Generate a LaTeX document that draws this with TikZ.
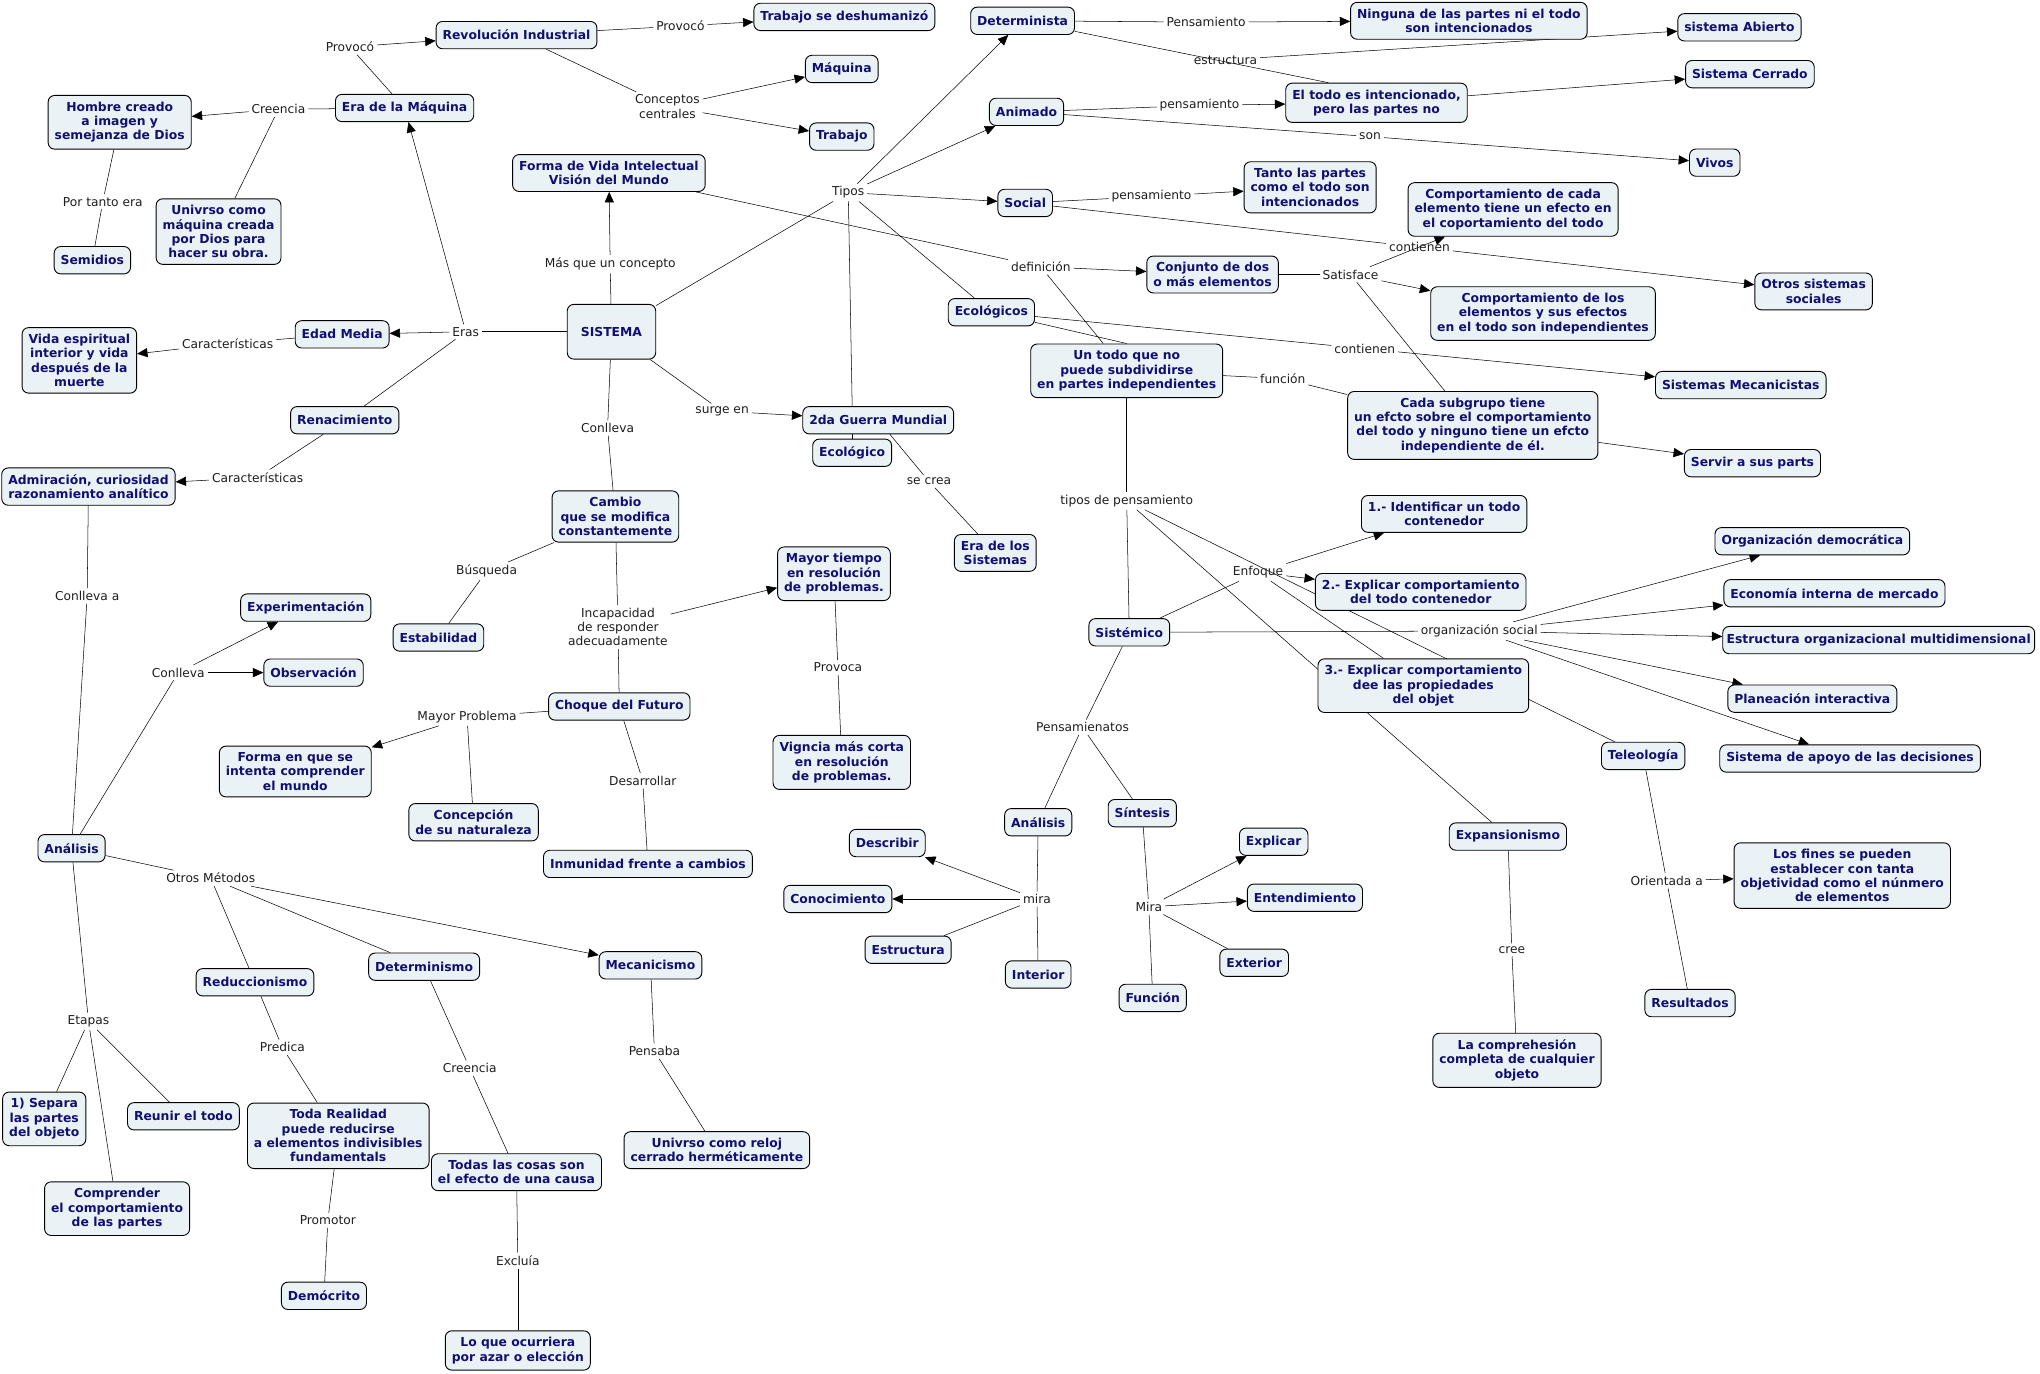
\documentclass[tikz,border=0pt]{standalone}
\usepackage{fontspec}
\setmainfont{DejaVu Sans}
\usetikzlibrary{arrows.meta,backgrounds}
\definecolor{cfill}{RGB}{235,242,246}
\definecolor{cblue}{RGB}{16,16,112}
\definecolor{ltext}{RGB}{30,30,30}

\begin{document}
\begin{tikzpicture}[x=1pt,y=-1pt,>={Triangle[length=8pt,width=7pt]},line width=0.6pt]
\tikzstyle{C}=[draw,rounded corners=5pt,fill=cfill,text=cblue,font=\bfseries\fontsize{9.5}{11}\selectfont,align=center,inner xsep=5pt,inner ysep=5pt,minimum height=21pt,line width=0.7pt]
\tikzstyle{L}=[text=ltext,font=\fontsize{9.4}{11}\selectfont,align=center,inner sep=2pt]
\useasboundingbox (0,0) rectangle (1568,1056);

\node[C,minimum width=68pt,minimum height=42pt] (sis) at (470,255) {SISTEMA};
\node[C] (rev) at (397,27) {Revolución Industrial};
\node[C] (tdh) at (649,13) {Trabajo se deshumanizó};
\node[C] (maq) at (647,53) {Máquina};
\node[C] (trab) at (647,105) {Trabajo};
\node[C] (eram) at (311,83) {Era de la Máquina};
\node[C] (hom) at (92,94) {Hombre creado\\a imagen y\\semejanza de Dios};
\node[C] (univ) at (168,178) {Univrso como\\máquina creada\\por Dios para\\hacer su obra.};
\node[C] (semi) at (71,200) {Semidios};
\node[C] (fvi) at (468,133) {Forma de Vida Intelectual\\Visión del Mundo};
\node[C] (edad) at (263,257) {Edad Media};
\node[C] (vida) at (61,277) {Vida espiritual\\interior y vida\\después de la\\muerte};
\node[C] (ren) at (265,323) {Renacimiento};
\node[C] (adm) at (68,374) {Admiración, curiosidad\\razonamiento analítico};
\node[C] (camb) at (473,397) {Cambio\\que se modifica\\constantemente};
\node[C] (est) at (337,490) {Estabilidad};
\node[C] (mayt) at (641,441) {Mayor tiempo\\en resolución\\de problemas.};
\node[C] (vig) at (647,586) {Vigncia más corta\\en resolución\\de problemas.};
\node[C] (choq) at (476,543) {Choque del Futuro};
\node[C] (fenq) at (227,593) {Forma en que se\\intenta comprender\\el mundo};
\node[C] (conc) at (364,632) {Concepción\\de su naturaleza};
\node[C] (inm) at (498,664) {Inmunidad frente a cambios};
\node[C] (exp) at (235,467) {Experimentación};
\node[C] (obs) at (241,517) {Observación};
\node[C] (anl) at (55,652) {Análisis};
\node[C] (red) at (196,755) {Reduccionismo};
\node[C] (detm) at (326,743) {Determinismo};
\node[C] (mec) at (500,742) {Mecanicismo};
\node[C] (sep) at (34,860) {1) Separa\\las partes\\del objeto};
\node[C] (reu) at (141,858) {Reunir el todo};
\node[C] (comp) at (90,929) {Comprender\\el comportamiento\\de las partes};
\node[C] (toda) at (260,873) {Toda Realidad\\puede reducirse\\a elementos indivisibles\\fundamentals};
\node[C] (todas) at (397,901) {Todas las cosas son\\el efecto de una causa};
\node[C] (dem) at (249,996) {Demócrito};
\node[C] (azar) at (398,1038) {Lo que ocurriera\\por azar o elección};
\node[C] (reloj) at (551,884) {Univrso como reloj\\cerrado herméticamente};
\node[C] (gm) at (675,323) {2da Guerra Mundial};
\node[C] (eco) at (655,348) {Ecológico};
\node[C] (erasis) at (765,425) {Era de los\\Sistemas};
\node[C] (dtta) at (786,16) {Determinista};
\node[C] (anim) at (789,86) {Animado};
\node[C] (soc) at (788,156) {Social};
\node[C] (ecos) at (762,240) {Ecológicos};
\node[C] (ning) at (1129,16) {Ninguna de las partes ni el todo\\son intencionados};
\node[C] (abto) at (1337,21) {sistema Abierto};
\node[C] (tint) at (1058,79) {El todo es intencionado,\\pero las partes no};
\node[C] (cerr) at (1345,57) {Sistema Cerrado};
\node[C] (viv) at (1318,125) {Vivos};
\node[C] (tanto) at (1007,144) {Tanto las partes\\como el todo son\\intencionados};
\node[C] (cada) at (1163,161) {Comportamiento de cada\\elemento tiene un efecto en\\el coportamiento del todo};
\node[C] (conj) at (932,211) {Conjunto de dos\\o más elementos};
\node[C] (clos) at (1186,241) {Comportamiento de los\\elementos y sus efectos\\en el todo son independientes};
\node[C] (otros) at (1394,224) {Otros sistemas\\sociales};
\node[C] (ut) at (866,285) {Un todo que no\\puede subdividirse\\en partes independientes};
\node[C] (smec) at (1338,296) {Sistemas Mecanicistas};
\node[C] (sub) at (1132,327) {Cada subgrupo tiene\\un efcto sobre el comportamiento\\del todo y ninguno tiene un efcto\\independiente de él.};
\node[C] (serv) at (1347,356) {Servir a sus parts};
\node[C] (e1) at (1110,395) {1.- Identificar un todo\\contenedor};
\node[C] (e2) at (1092,455) {2.- Explicar comportamiento\\del todo contenedor};
\node[C] (e3) at (1094,527) {3.- Explicar comportamiento\\dee las propiedades\\del objet};
\node[C] (sistm) at (868,486) {Sistémico};
\node[C] (odem) at (1393,416) {Organización democrática};
\node[C] (econ) at (1410,456) {Economía interna de mercado};
\node[C,inner xsep=3pt] (eorg) at (1444,492) {Estructura organizacional multidimensional};
\node[C] (plan) at (1393,537) {Planeación interactiva};
\node[C] (apoyo) at (1422,583) {Sistema de apoyo de las decisiones};
\node[C] (tele) at (1263,581) {Teleología};
\node[C] (expa) at (1159,643) {Expansionismo};
\node[C] (compr) at (1166,815) {La comprehesión\\completa de cualquier\\objeto};
\node[C] (fines) at (1416,673) {Los fines se pueden\\establecer con tanta\\objetividad como el núnmero\\de elementos};
\node[C] (res) at (1299,771) {Resultados};
\node[C] (anl2) at (798,632) {Análisis};
\node[C] (sint) at (878,625) {Síntesis};
\node[C] (desc) at (682,648) {Describir};
\node[C] (cono) at (644,691) {Conocimiento};
\node[C] (estr) at (698,730) {Estructura};
\node[C] (inte) at (798,749) {Interior};
\node[C] (expl) at (979,647) {Explicar};
\node[C] (ente) at (1003,690) {Entendimiento};
\node[C] (exte) at (964,740) {Exterior};
\node[C] (func) at (886,767) {Función};

\node[L] (prov1) at (269,36) {Provocó};
\node[L] (prov2) at (523,20) {Provocó};
\node[L] (ccen) at (513,82) {Conceptos\\centrales};
\node[L] (cre1) at (214,84) {Creencia};
\node[L] (pte) at (79,155) {Por tanto era};
\node[L] (eras) at (358,255) {Eras};
\node[L] (car1) at (175,264) {Características};
\node[L] (car2) at (198,367) {Características};
\node[L] (mqc) at (469,203) {Más que un concepto};
\node[L] (conl1) at (467,329) {Conlleva};
\node[L] (surge) at (555,316) {surge en};
\node[L] (tipos) at (652,148) {Tipos};
\node[L] (defi) at (800,205) {definición};
\node[L] (pens1) at (927,17) {Pensamiento};
\node[L] (estc) at (942,46) {estructura};
\node[L] (pens2) at (922,81) {pensamiento};
\node[L] (son) at (1053,105) {son};
\node[L] (pens3) at (885,151) {pensamiento};
\node[L] (cont1) at (1091,190) {contienen};
\node[L] (satis) at (1038,211) {Satisface};
\node[L] (cont2) at (1049,268) {contienen};
\node[L] (funl) at (986,291) {función};
\node[L] (tdp) at (866,385) {tipos de pensamiento};
\node[L] (enf) at (967,440) {Enfoque};
\node[L] (orgs) at (1137,485) {organización social};
\node[L] (pnat) at (832,559) {Pensamienatos};
\node[L] (mira1) at (797,691) {mira};
\node[L] (mira2) at (883,697) {Mira};
\node[L] (cree) at (1162,730) {cree};
\node[L] (ori) at (1281,677) {Orientada a};
\node[L] (screa) at (714,370) {se crea};
\node[L] (busq) at (374,439) {Búsqueda};
\node[L] (incap) at (475,482) {Incapacidad\\de responder\\adecuadamente};
\node[L] (provc) at (644,513) {Provoca};
\node[L] (mprob) at (359,551) {Mayor Problema};
\node[L] (desa) at (494,600) {Desarrollar};
\node[L] (conla) at (67,458) {Conlleva a};
\node[L] (conl2) at (137,517) {Conlleva};
\node[L] (otm) at (162,675) {Otros Métodos};
\node[L] (etap) at (68,785) {Etapas};
\node[L] (pred) at (217,805) {Predica};
\node[L] (prom) at (252,938) {Promotor};
\node[L] (cre2) at (361,821) {Creencia};
\node[L] (excl) at (398,969) {Excluía};
\node[L] (pensb) at (503,808) {Pensaba};

\begin{scope}[on background layer]
\fill[white] (0,0) rectangle (1568,1056);
\draw (eram)--(prov1); \draw[->] (prov1)--(rev);
\draw (rev)--(prov2); \draw[->] (prov2)--(tdh);
\draw (rev)--(ccen); \draw[->] (ccen)--(maq); \draw[->] (ccen)--(trab);
\draw (eram)--(cre1); \draw[->] (cre1)--(hom); \draw (cre1)--(univ);
\draw (hom)--(pte); \draw (pte)--(semi);
\draw (sis)--(eras); \draw[->] (eras)--(edad); \draw[->] (eras)--(eram); \draw (eras)--(ren);
\draw (edad)--(car1); \draw[->] (car1)--(vida);
\draw (ren)--(car2); \draw[->] (car2)--(adm);
\draw (sis)--(mqc); \draw[->] (mqc)--(fvi);
\draw (sis)--(conl1); \draw (conl1)--(camb);
\draw (sis)--(surge); \draw[->] (surge)--(gm);
\draw (sis)--(tipos); \draw[->] (tipos)--(dtta); \draw[->] (tipos)--(anim); \draw[->] (tipos)--(soc);
\draw (tipos)--(ecos); \draw (tipos)--([xshift=-20pt]gm.north);
\draw (eco.north)--(eco.north |- gm.south);
\draw (gm)--(screa); \draw (screa)--(erasis);
\draw (fvi)--(defi); \draw[->] (defi)--(conj); \draw (defi)--([xshift=-18pt]ut.north);
\draw (dtta)--(pens1); \draw[->] (pens1)--(ning);
\draw (dtta)--([xshift=-37pt]tint.north); \draw[->] (estc)--(abto);
\draw (anim)--(pens2); \draw[->] (pens2)--(tint);
\draw (anim)--(son); \draw[->] (son)--(viv);
\draw[->] (tint)--(cerr);
\draw (soc)--(pens3); \draw[->] (pens3)--(tanto);
\draw (soc)--(cont1); \draw[->] (cont1)--(otros);
\draw (conj)--(satis); \draw[->] (satis)--(cada); \draw[->] (satis)--(clos); \draw (satis)--(sub);
\draw (ecos)--(cont2); \draw[->] (cont2)--(smec);
\draw (ecos)--(ut.north);
\draw (ut)--(funl); \draw (funl)--(sub);
\draw[->] (sub)--(serv);
\draw (ut)--(tdp); \draw (tdp)--(sistm); \draw (tdp)--(expa); \draw (tdp)--(tele);
\draw (sistm)--(enf); \draw[->] (enf)--(e1); \draw[->] (enf)--(e2); \draw (enf)--(e3);
\draw (sistm)--(orgs); \draw[->] (orgs)--(odem); \draw[->] (orgs)--(econ);
\draw[->] (orgs)--(eorg); \draw[->] (orgs)--(plan); \draw[->] (orgs)--(apoyo);
\draw (sistm)--(pnat); \draw (pnat)--(anl2); \draw (pnat)--(sint);
\draw (anl2)--(mira1); \draw (mira1)--(inte); \draw[->] (mira1)--(desc); \draw[->] (mira1)--(cono); \draw (mira1)--(estr);
\draw (sint)--(mira2); \draw[->] (mira2)--(expl); \draw[->] (mira2)--(ente); \draw (mira2)--(exte); \draw (mira2)--(func);
\draw (expa)--(cree); \draw (cree)--(compr);
\draw (tele)--(ori); \draw[->] (ori)--(fines); \draw (ori)--(res);
\draw (camb)--(busq); \draw (busq)--(est);
\draw (camb)--(incap); \draw (incap)--(choq); \draw[->] (incap)--(mayt);
\draw (mayt)--(provc); \draw (provc)--(vig);
\draw (choq)--(mprob); \draw[->] (mprob)--(fenq); \draw (mprob)--(conc);
\draw (choq)--(desa); \draw (desa)--(inm);
\draw (adm)--(conla); \draw (conla)--(anl);
\draw (anl)--(conl2); \draw[->] (conl2)--(exp); \draw[->] (conl2)--(obs);
\draw (anl)--(otm); \draw (otm)--(red); \draw (otm)--(detm); \draw[->] (otm)--(mec);
\draw (anl)--(etap); \draw (etap)--(sep); \draw (etap)--(reu); \draw (etap)--(comp);
\draw (red)--(pred); \draw (pred)--(toda);
\draw (toda)--(prom); \draw (prom)--(dem);
\draw (detm)--(cre2); \draw (cre2)--(todas);
\draw (todas)--(excl); \draw (excl)--(azar);
\draw (mec)--(pensb); \draw (pensb)--(reloj);
\end{scope}
\end{tikzpicture}
\end{document}
